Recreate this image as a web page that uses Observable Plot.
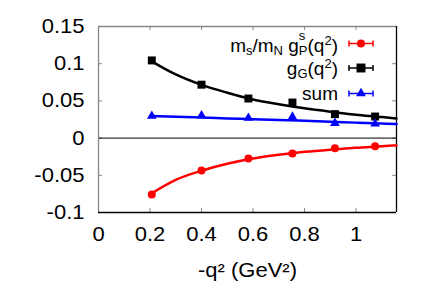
<!DOCTYPE html>
<html>
<head>
<meta charset="utf-8">
<script src="https://cdn.jsdelivr.net/npm/d3@7"></script>
<script src="https://cdn.jsdelivr.net/npm/@observablehq/plot@0.6"></script>
<style>
  html, body { margin: 0; padding: 0; background: #fff; }
  #chart { width: 436px; height: 305px; }
</style>
</head>
<body>
<div id="chart"></div>
<script>
// ---- data ----
const xDomain = [0, 1.157];
const yDomain = [-0.1, 0.15];
const xTicks = [0, 0.2, 0.4, 0.6, 0.8, 1];
const xTickLabels = ["0", "0.2", "0.4", "0.6", "0.8", "1"];
const yTicks = [-0.1, -0.05, 0, 0.05, 0.1, 0.15];
const yTickLabels = ["-0.1", "-0.05", "0", "0.05", "0.1", "0.15"];

const qx = [0.207, 0.400, 0.582, 0.753, 0.918, 1.074];
const gP = [-0.0758, -0.0435, -0.0273, -0.0208, -0.0137, -0.0111];
const gG = [0.1044, 0.0718, 0.0532, 0.0478, 0.0322, 0.0290];
const gSum = [0.0297, 0.0303, 0.0270, 0.0285, 0.0200, 0.0192];

const fitX = [0.2, 0.3, 0.4, 0.5, 0.6, 0.7, 0.8, 0.9, 1.0, 1.1, 1.157];
const fitP = [-0.0755, -0.056, -0.0438, -0.0345, -0.0275, -0.0225, -0.0185, -0.0155, -0.013, -0.0108, -0.0098];
const fitG = [0.1045, 0.0855, 0.0715, 0.061, 0.052, 0.0455, 0.040, 0.0355, 0.0315, 0.0283, 0.0262];
const fitSum = [0.0296, 0.0286, 0.0276, 0.0265, 0.0254, 0.0243, 0.0232, 0.0220, 0.0208, 0.0196, 0.0188];

const colP = "#ff0000", colG = "#000000", colS = "#0000ff";

// ---- tables ----
const pts = (ys) => qx.map((x, i) => ({x, y: ys[i]}));
const fit = (ys) => fitX.map((x, i) => ({x, y: ys[i]}));

const W = 436, H = 305;
const mL = 98, mR = 40, mT = 26, mB = 93;
const innerH = H - mT - mB, innerW = W - mL - mR;
const tickLen = 4;
const grey = "#888888";

const plot = Plot.plot({
  width: W, height: H,
  marginLeft: mL, marginRight: mR, marginTop: mT, marginBottom: mB,
  x: {domain: xDomain},
  y: {domain: yDomain},
  style: {fontFamily: "'Liberation Sans', Arial, sans-serif", fontSize: "19px", background: "#fff", overflow: "visible"},
  marks: [
    // ticks (inside)
    Plot.tickX(xTicks.slice(1), {stroke: grey, insetTop: innerH - tickLen}),
    Plot.tickX(xTicks.slice(1), {stroke: grey, insetBottom: innerH - tickLen}),
    Plot.tickY(yTicks, {stroke: grey, insetRight: innerW - tickLen}),
    Plot.tickY(yTicks, {stroke: grey, insetLeft: innerW - tickLen}),
    // zero line
    Plot.ruleY([0], {stroke: "#000", strokeWidth: 1}),
    // frame
    Plot.ruleX([xDomain[0]], {stroke: grey, strokeWidth: 1.3}),
    Plot.ruleY([yDomain[1]], {stroke: grey, strokeWidth: 1.3}),
    Plot.ruleY([yDomain[0]], {stroke: "#000", strokeWidth: 1.3}),
    Plot.ruleX([xDomain[1]], {stroke: "#000", strokeWidth: 1.3}),
    // axes labels
    Plot.axisX({ticks: xTicks, tickSize: 0, tickPadding: 14, tickFormat: (d) => xTickLabels[xTicks.indexOf(d)], fontSize: 20, label: null}),
    Plot.axisY({ticks: yTicks, tickSize: 0, tickPadding: 14, tickFormat: (d) => yTickLabels[yTicks.indexOf(d)], fontSize: 20, label: null}),
    Plot.text(["-q² (GeV²)"], {frameAnchor: "bottom", dy: 58, fontSize: 20, lineAnchor: "middle"}),
    // fit curves
    Plot.line(fit(fitP), {x: "x", y: "y", stroke: colP, strokeWidth: 2.5, curve: "monotone-x"}),
    Plot.line(fit(fitG), {x: "x", y: "y", stroke: colG, strokeWidth: 2.5, curve: "monotone-x"}),
    Plot.line(fit(fitSum), {x: "x", y: "y", stroke: colS, strokeWidth: 2.5, curve: "monotone-x"}),
    // points
    Plot.dot(pts(gP), {x: "x", y: "y", fill: colP, r: 4, symbol: "circle"}),
    Plot.dot(pts(gG), {x: "x", y: "y", fill: colG, r: 4.5, symbol: "square"}),
    Plot.dot(pts(gSum), {x: "x", y: "y", fill: colS, r: 3.6, symbol: "triangle"})
  ]
});

document.getElementById("chart").appendChild(plot);

// widen axis texts slightly (reference glyphs are horizontally stretched)
const stretch = 1.1;
plot.querySelectorAll("text").forEach(t => {
  let bb;
  try { bb = t.getBBox(); } catch (e) { return; }
  if (!bb || !isFinite(bb.x)) return;
  const anchor = getComputedStyle(t).textAnchor;
  const ax = anchor === "end" ? bb.x + bb.width : anchor === "middle" ? bb.x + bb.width / 2 : bb.x;
  const tr = t.getAttribute("transform") || "";
  t.setAttribute("transform", `${tr} translate(${ax},0) scale(${stretch},1) translate(${-ax},0)`);
});

// ---- legend (inside top-right) ----
const svg = d3.select(plot);
const lg = svg.append("g")
  .attr("font-family", "'Liberation Sans', Arial, sans-serif")
  .attr("font-size", 19)
  .attr("fill", "#000");
const textRight = 338, lineX1 = 349, lineX2 = 373;
const rows = [
  {y: 43.5, base: 51.5, color: colP, sym: d3.symbolCircle, size: Math.PI * 16},
  {y: 68, base: 75, color: colG, sym: d3.symbolSquare, size: 80},
  {y: 93.5, base: 99.5, color: colS, sym: d3.symbolTriangle, size: 42}
];
rows.forEach(r => {
  lg.append("line").attr("x1", lineX1).attr("x2", lineX2).attr("y1", r.y).attr("y2", r.y)
    .attr("stroke", r.color).attr("stroke-width", 1.5);
  [lineX1, lineX2].forEach(x => lg.append("line").attr("x1", x).attr("x2", x)
    .attr("y1", r.y - 3).attr("y2", r.y + 3).attr("stroke", r.color).attr("stroke-width", 1.5));
  lg.append("path").attr("d", d3.symbol(r.sym, r.size)())
    .attr("transform", `translate(${(lineX1 + lineX2) / 2},${r.y})`).attr("fill", r.color);
});
const sub = 13, sd = 3;
// row 1: m_s/m_N g_P^s(q^2)
const t1 = lg.append("text").attr("x", textRight).attr("y", rows[0].base).attr("text-anchor", "end");
t1.append("tspan").text("m");
t1.append("tspan").attr("dy", sd).attr("font-size", sub).text("s");
t1.append("tspan").attr("dy", -sd).text("/m");
t1.append("tspan").attr("dy", sd).attr("font-size", sub).text("N");
t1.append("tspan").attr("dy", -sd).text(" g");
t1.append("tspan").attr("dy", sd).attr("font-size", sub).text("P");
t1.append("tspan").attr("dx", -8.7).attr("dy", -15).attr("font-size", sub).text("s");
t1.append("tspan").attr("dx", 2.2).attr("dy", 12).text("(q");
t1.append("tspan").attr("dy", -7).attr("font-size", sub).text("2");
t1.append("tspan").attr("dy", 7).text(")");
// row 2: g_G(q^2)
const t2 = lg.append("text").attr("x", textRight).attr("y", rows[1].base).attr("text-anchor", "end");
t2.append("tspan").text("g");
t2.append("tspan").attr("dy", sd).attr("font-size", sub).text("G");
t2.append("tspan").attr("dy", -sd).text("(q");
t2.append("tspan").attr("dy", -7).attr("font-size", sub).text("2");
t2.append("tspan").attr("dy", 7).text(")");
// row 3: sum
lg.append("text").attr("x", textRight).attr("y", rows[2].base).attr("text-anchor", "end").text("sum");
</script>
</body>
</html>
